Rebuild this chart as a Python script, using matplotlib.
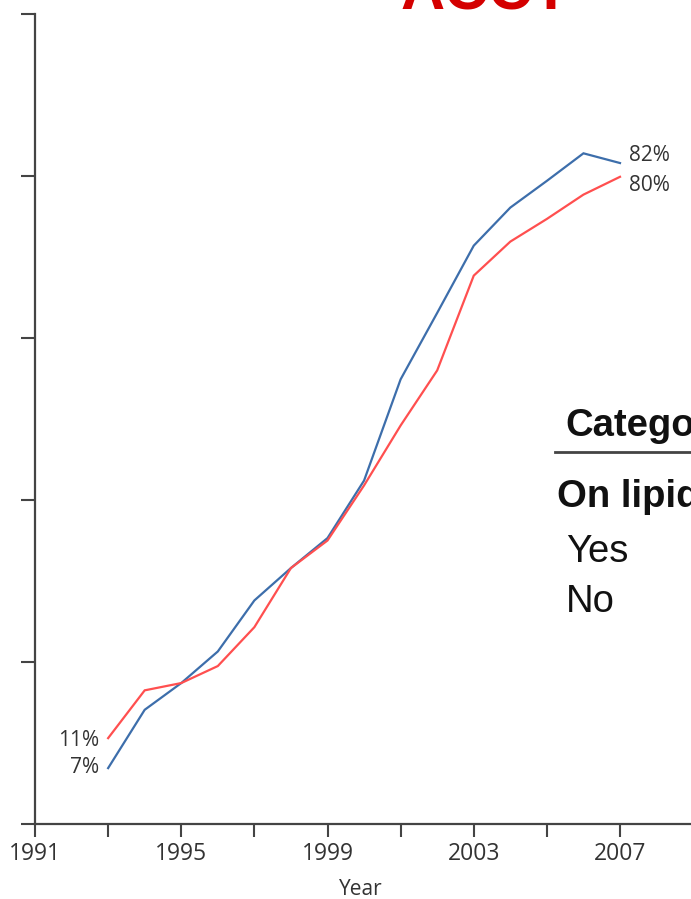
import matplotlib
matplotlib.use("Agg")
import matplotlib.pyplot as plt
from matplotlib.ticker import MultipleLocator, FixedLocator, NullFormatter

years = [1993, 1994, 1995, 1996, 1997, 1998, 1999, 2000, 2001, 2002, 2003, 2004, 2005, 2006, 2007]
yes_vals = [6.9, 14.1, 17.4, 21.3, 27.6, 31.6, 35.3, 42.4, 54.9, 63.1, 71.4, 76.1, 79.4, 82.8, 81.6]
no_vals = [10.6, 16.5, 17.4, 19.5, 24.3, 31.6, 35.0, 41.8, 49.2, 56.0, 67.7, 71.9, 74.7, 77.7, 79.9]
yes_start_label, yes_end_label = "7%", "82%"
no_start_label, no_end_label = "11%", "80%"
xtick_labels = [1991, 1995, 1999, 2003, 2007]
legend_title = "Category"
legend_group = "On lipid-lowering"
legend_items = ["Yes", "No"]
title_text = "ACCT"

W, H = 691, 899
fig = plt.figure(figsize=(W / 100, H / 100), dpi=100)
px_per_year = 585 / 16
x0, x1 = 1991, 2010
ax_w_px = (x1 - x0) * px_per_year
ax = fig.add_axes([35 / W, (H - 824) / H, ax_w_px / W, (824 - 14) / H])
ax.set_xlim(x0, x1)
ax.set_ylim(0, 100)

blue = "#3d6eab"
red = "#ff4f4f"
ax.plot(years, yes_vals, color=blue, lw=1.6, solid_joinstyle="miter")
ax.plot(years, no_vals, color=red, lw=1.6, solid_joinstyle="miter")

for s in ["top", "right"]:
    ax.spines[s].set_visible(False)
for s in ["left", "bottom"]:
    ax.spines[s].set_color("#444444")
    ax.spines[s].set_linewidth(1.6)

ax.xaxis.set_major_locator(FixedLocator(xtick_labels))
ax.xaxis.set_minor_locator(FixedLocator([1993, 1997, 2001, 2005, 2009]))
ax.xaxis.set_minor_formatter(NullFormatter())
ax.set_xticklabels([str(v) for v in xtick_labels])
ax.yaxis.set_major_locator(MultipleLocator(20))
ax.set_yticklabels([])
ax.tick_params(axis="x", which="both", direction="out", length=9.5, width=1.5, color="#444444", pad=3.5)
ax.tick_params(axis="x", which="major", labelsize=16.5, labelcolor="#333333")
ax.tick_params(axis="y", direction="out", length=10, width=1.5, color="#444444")
for lab in ax.get_xticklabels():
    lab.set_fontfamily("Open Sans")

ax.set_xlabel("Year", fontfamily="Open Sans", fontsize=15, color="#333333", labelpad=9)
ax.xaxis.label.set_x((361 - 35) / ax_w_px)

lab_kw = dict(fontfamily="Open Sans", fontsize=15, color="#333333", textcoords="offset points", va="center")
ax.annotate(yes_end_label, xy=(years[-1], yes_vals[-1]), xytext=(6.5, 5.5), ha="left", **lab_kw)
ax.annotate(no_end_label, xy=(years[-1], no_vals[-1]), xytext=(6.5, -6.5), ha="left", **lab_kw)
ax.annotate(no_start_label, xy=(years[0], no_vals[0]), xytext=(-6.5, -2), ha="right", **lab_kw)
ax.annotate(yes_start_label, xy=(years[0], yes_vals[0]), xytext=(-6.5, 0.5), ha="right", **lab_kw)

# Legend (table-like, partly outside the figure)
def fy(py):
    return 1 - py / H

fs_leg = 27.5
fig.text(565 / W, fy(436), legend_title, fontfamily="Liberation Sans", fontweight="bold",
         fontsize=fs_leg, color="#111111", va="baseline", ha="left")
fig.add_artist(plt.Line2D([555 / W, 1.05], [fy(452), fy(452)], color="#444444", lw=2,
                          transform=fig.transFigure))
fig.text(557 / W, fy(507), legend_group, fontfamily="Liberation Sans", fontweight="bold",
         fontsize=fs_leg, color="#111111", va="baseline", ha="left")
for it, py in zip(legend_items, [562, 612]):
    fig.text(566 / W, fy(py), it, fontfamily="Liberation Sans", fontsize=fs_leg,
             color="#111111", va="baseline", ha="left")

fig.text(400 / W, fy(10), title_text, fontfamily="Liberation Sans", fontweight="bold",
         fontsize=44, color="#d40000", va="baseline", ha="left")

fig.savefig("out.png", dpi=100)
